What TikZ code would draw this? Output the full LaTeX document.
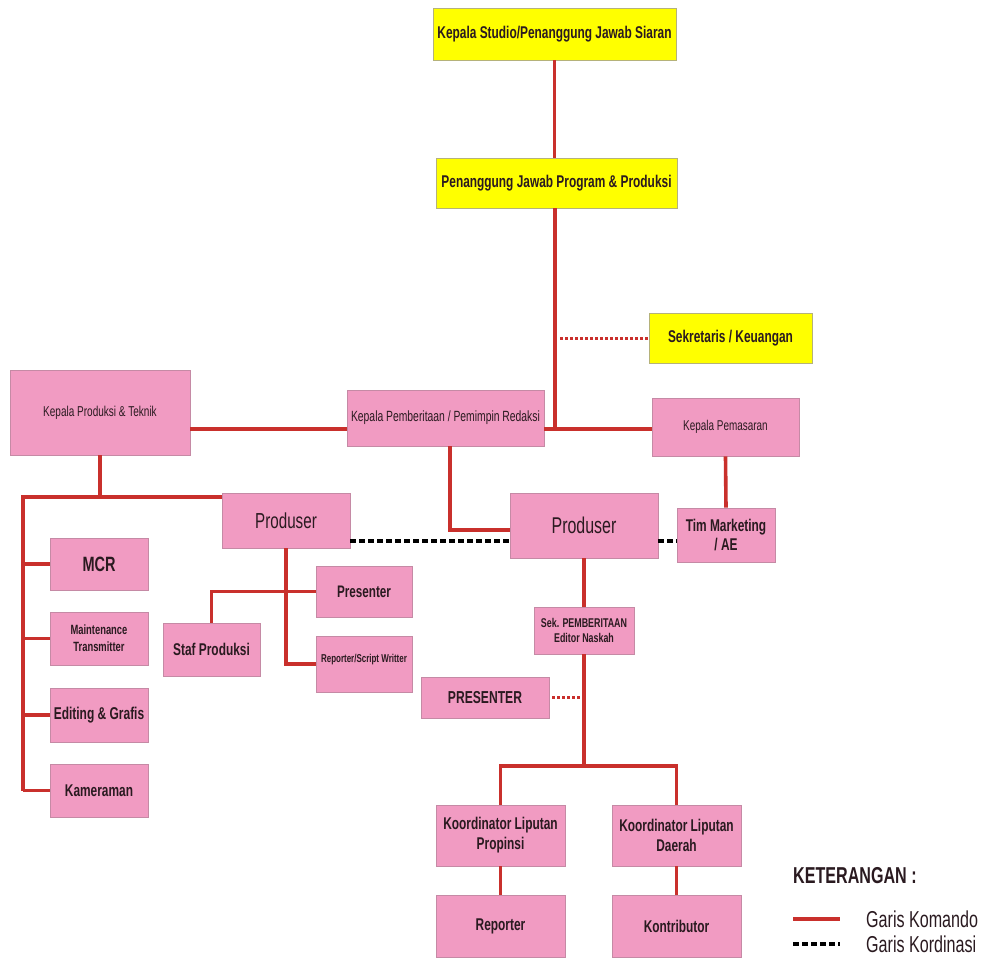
\documentclass[tikz,border=0pt]{standalone}
\usepackage{fontspec}
\setmainfont{Liberation Sans}[FakeStretch=0.7]
\usetikzlibrary{positioning}
\definecolor{pinkfill}{HTML}{F19BC2}
\definecolor{pinkline}{HTML}{C58AA5}
\definecolor{yellowfill}{HTML}{FFFF00}
\definecolor{yellowline}{HTML}{B5B27A}
\definecolor{redline}{HTML}{C9302C}
\definecolor{ink}{HTML}{2A1A20}

\begin{document}
\begin{tikzpicture}[
    x=1pt, y=-1pt,
    box/.style={rectangle, draw=pinkline, line width=0.8pt, fill=pinkfill, text=ink, align=center, inner sep=0pt},
    ybox/.style={box, draw=yellowline, fill=yellowfill},
    sz/.style args={#1x#2}{minimum width=#1pt, minimum height=#2pt},
    fs/.style args={#1/#2}{font=\fontsize{#1}{#2}\selectfont},
    bf/.style args={#1/#2}{font=\fontsize{#1}{#2}\selectfont\bfseries},
    cmd/.style={redline, line width=3.6pt},
    koord/.style={black, line width=3.6pt, dash pattern=on 6pt off 3pt},
    dotred/.style={redline, line width=3pt, dash pattern=on 3pt off 2pt}
]
\useasboundingbox (0,0) rectangle (983,962);

% top
\node[ybox, sz=243x52, bf=17/20] (studio) at (554.5,34) {Kepala Studio/Penanggung Jawab Siaran};
\node[ybox, sz=241x50, bf=17/20] (pjp) at (556.5,183) {Penanggung Jawab Program \& Produksi};
\node[ybox, sz=163x50, bf=17/20] (sekku) at (730.5,338) {Sekretaris / Keuangan};

% kepala
\node[box, sz=180x85, fs=14.3/16] (kproduksi) at (100,412.5) {Kepala Produksi \& Teknik};
\node[box, sz=197x56, fs=14.8/16] (kberita) at (445.5,418) {Kepala Pemberitaan / Pemimpin Redaksi};
\node[box, sz=147x58, fs=14.2/16] (kpasar) at (725.5,427) {Kepala Pemasaran};

% produser
\node[box, sz=128x55, fs=21.7/24] (produserL) at (286,520.5) {Produser};
\node[box, sz=148x65, fs=22.8/24] (produserR) at (584,525.5) {Produser};
\node[box, sz=98x54, bf=17/19] (timmkt) at (726,535) {Tim Marketing\\/ AE};

% teknik
\node[box, sz=98x52, bf=20.7/23] (mcr) at (99,564) {MCR};
\node[box, sz=98x53, bf=13.4/17] (mtx) at (99,638.5) {Maintenance\\Transmitter};
\node[box, sz=98x54, bf=17.1/20] (edit) at (99,715) {Editing \& Grafis};
\node[box, sz=98x53, bf=17/20] (kamera) at (99,790.5) {Kameraman};

\node[box, sz=97x53, bf=17/20] (staf) at (211.5,649.5) {Staf Produksi};
\node[box, sz=96x51, bf=16.7/20] (presL) at (364,591.5) {Presenter};
\node[box, sz=96x56, bf=11.4/13] (rsw) at (364,664) {Reporter/Script Writter\\[-1pt]};

% pemberitaan
\node[box, sz=100x47, bf=12.7/15] (sekber) at (584,630.5) {Sek. PEMBERITAAN\\Editor Naskah};
\node[box, sz=128x41, bf=17.3/20] (presR) at (485,697.5) {PRESENTER};
\node[box, sz=129x61, bf=17/20] (kprop) at (500.5,835.5) {Koordinator Liputan\\Propinsi};
\node[box, sz=129x61, bf=17/20] (kdaerah) at (676.5,835.5) {Koordinator Liputan\\Daerah};
\node[box, sz=129x62, bf=17/20] (reporter) at (500.5,926) {Reporter};
\node[box, sz=129x62, bf=17/20] (kontrib) at (676.5,926) {Kontributor};

% keterangan
\node[anchor=west, text=ink, bf=23/26, inner sep=0pt] (ket) at (793,876) {KETERANGAN :};
\coordinate (lk1) at (793,919);
\coordinate (lk2) at (840,919);
\coordinate (lo1) at (793,944);
\coordinate (lo2) at (840,944);
\node[anchor=west, text=ink, fs=23/26, inner sep=0pt] (tkom) at (866,919) {Garis Komando};
\node[anchor=west, text=ink, fs=23/26, inner sep=0pt] (tkor) at (866,944) {Garis Kordinasi};

% titik bantu
\coordinate (jpusat) at (555,429);
\coordinate (jkiri) at (23,497);
\coordinate (jkoord) at (0,541);
\coordinate (jberita) at (450,530);
\coordinate (jbawah) at (584,766);

% garis komando
\draw[cmd] (studio.south) -- (studio.south |- pjp.north);
\draw[cmd] (pjp.south -| jpusat) -- (jpusat);
\draw[cmd] (kberita.east |- jpusat) -- (kpasar.west |- jpusat);
\draw[cmd] (kproduksi.east |- jpusat) -- (kberita.west |- jpusat);
\draw[cmd] (kpasar.south) -- (timmkt.north);
\draw[cmd] (kproduksi.south) -- (kproduksi.south |- jkiri);
\draw[cmd] (produserL.west |- jkiri) -- (jkiri) -- (jkiri |- kamera.west);
\foreach \b in {mcr,mtx,edit,kamera}
  \draw[cmd] (jkiri |- \b.west) -- (\b.west);
\draw[cmd] (produserL.south) -- (produserL.south |- rsw.west) -- (rsw.west);
\draw[cmd] (staf.north) -- (staf.north |- presL.west) -- (presL.west);
\draw[cmd] (kberita.south -| jberita) -- (jberita) -- (produserR.west |- jberita);
\draw[cmd] (produserR.south) -- (sekber.north);
\draw[cmd] (sekber.south) -- (jbawah);
\draw[cmd] (kprop.north) -- (kprop.north |- jbawah) -- (kdaerah.north |- jbawah) -- (kdaerah.north);
\draw[cmd] (kprop.south) -- (reporter.north);
\draw[cmd] (kdaerah.south) -- (kontrib.north);

% garis kordinasi
\draw[koord] (produserL.east |- jkoord) -- (produserR.west |- jkoord);
\draw[koord] (produserR.east |- jkoord) -- (timmkt.west |- jkoord);
\draw[dotred] ([xshift=5pt]jpusat |- sekku.west) -- (sekku.west);
\draw[dotred] ([xshift=3pt]presR.east) -- (sekber.south |- presR.east);

% legenda
\draw[cmd] (lk1) -- (lk2);
\draw[koord] (lo1) -- (lo2);
\end{tikzpicture}
\end{document}
